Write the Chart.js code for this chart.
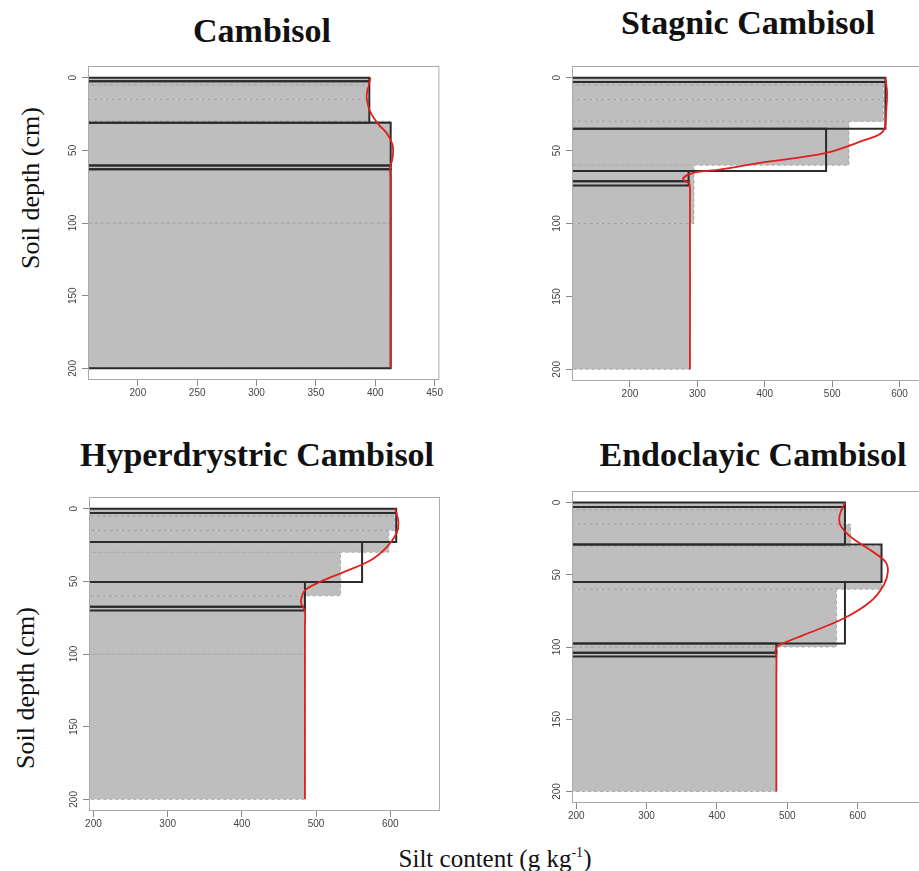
<!DOCTYPE html>
<html lang="en">
<head>
<meta charset="UTF-8">
<title>Silt content depth profiles</title>
<script src="https://cdn.jsdelivr.net/npm/chart.js"></script>
<style>
  body { margin: 0; width: 919px; height: 871px; overflow: hidden; background: #fff; position: relative;
         font-family: "Liberation Serif", "Times New Roman", serif; color: #111; }
  canvas { position: absolute; }
  .title { position: absolute; transform: translateX(-50%); font-weight: bold; font-size: 34px; line-height: 1; white-space: nowrap; }
  .ylab { position: absolute; font-size: 26px; line-height: 1; white-space: nowrap; transform: translate(-50%, -50%) rotate(-90deg); }
  .xlab { position: absolute; font-size: 25px; line-height: 1; white-space: nowrap; transform: translate(-50%, -50%); }
  .xlab sup { font-size: 14px; vertical-align: 10px; }
</style>
</head>
<body>
<div class="title" style="left:262px; top:14px;">Cambisol</div>
<div class="title" style="left:748px; top:6px;">Stagnic Cambisol</div>
<div class="title" style="left:257px; top:438px;">Hyperdrystric Cambisol</div>
<div class="title" style="left:753px; top:438px;">Endoclayic Cambisol</div>
<div class="ylab" style="left:31px; top:188px;">Soil depth (cm)</div>
<div class="ylab" style="left:26px; top:688px;">Soil depth (cm)</div>
<div class="xlab" style="left:495px; top:858px;">Silt content (g kg<sup>-1</sup>)</div>

<script>
// standard depth intervals (cm) for the gray bars
const stdTop = [0, 5, 15, 30, 60, 100];
const stdBottom = [5, 15, 30, 60, 100, 200];

// Cambisol
const cambisolStd = [395, 393, 395, 413, 413, 413];
const cambisolHzTop = [0, 2.5, 31, 60.5, 63];
const cambisolHzBottom = [2.5, 31, 60.5, 63, 200];
const cambisolHzSilt = [395, 395, 413, 413, 413];
const cambisolSplineDepth = [0, 10.6, 15, 23, 32, 38, 46, 52, 57.5, 61, 70, 200];
const cambisolSplineSilt = [396, 393, 393, 395.5, 402.5, 409.5, 414.5, 415, 414, 412.5, 413, 413];

// Stagnic Cambisol
const stagnicStd = [576, 576, 576, 525, 295, 289];
const stagnicHzTop = [0, 3, 35, 64, 71];
const stagnicHzBottom = [3, 35, 64, 71, 74];
const stagnicHzSilt = [579, 579, 491, 287, 287];
const stagnicSplineDepth = [0, 10.5, 24, 34.5, 39, 42.5, 51.6, 58.5, 63, 65.3, 68.8, 71, 72.2, 84, 200];
const stagnicSplineSilt = [579, 581.5, 580, 578, 570, 550, 491, 393, 333, 294, 279, 281.5, 288, 289, 289];

// Hyperdrystric Cambisol
const hyperStd = [606, 606, 598, 533, 485, 485];
const hyperHzTop = [0, 3, 23, 50.5, 67.5];
const hyperHzBottom = [3, 23, 50.5, 67.5, 70];
const hyperHzSilt = [608, 608, 562, 485, 485];
const hyperSplineDepth = [0, 9.4, 17.4, 26.6, 35.7, 43.7, 50.5, 56.2, 63.2, 66.6, 70, 80, 200];
const hyperSplineSilt = [606.5, 611, 608, 595, 573, 537, 505, 485, 479.5, 481, 485, 485, 485];

// Endoclayic Cambisol
const endoStd = [582, 582, 590, 634, 570, 484.5];
const endoHzTop = [0, 3, 29, 55, 97.5, 104];
const endoHzBottom = [3, 29, 55, 97.5, 104, 106.5];
const endoHzSilt = [582, 582, 634, 582, 484.5, 484.5];
const endoSplineDepth = [0, 8.7, 15.6, 23.7, 32.9, 41, 48, 57.2, 68.7, 80.3, 91.8, 98.8, 102.3, 106, 120, 200];
const endoSplineSilt = [582, 574.5, 575.5, 590, 618, 639.5, 643, 637, 618, 580, 523, 488, 483, 484.5, 484.5, 484.5];

// axis ranges
const depthTicks = [0, 50, 100, 150, 200];
const xMins = [158, 114, 194, 194];
const xMaxs = [454, 660, 667, 710];
const xSteps = [50, 100, 100, 100];

// plot frame on the page: left, top, right, bottom
const frames = [[88, 66, 440, 380], [572, 66, 940, 381], [89, 497, 440, 811], [572, 491, 935, 803]];

const panels = [
  { std: cambisolStd, hzTop: cambisolHzTop, hzBottom: cambisolHzBottom, hzSilt: cambisolHzSilt, spD: cambisolSplineDepth, spS: cambisolSplineSilt },
  { std: stagnicStd, hzTop: stagnicHzTop, hzBottom: stagnicHzBottom, hzSilt: stagnicHzSilt, spD: stagnicSplineDepth, spS: stagnicSplineSilt },
  { std: hyperStd, hzTop: hyperHzTop, hzBottom: hyperHzBottom, hzSilt: hyperHzSilt, spD: hyperSplineDepth, spS: hyperSplineSilt },
  { std: endoStd, hzTop: endoHzTop, hzBottom: endoHzBottom, hzSilt: endoHzSilt, spD: endoSplineDepth, spS: endoSplineSilt }
];

Chart.defaults.font.family = '"Liberation Sans", Arial, sans-serif';
Chart.defaults.font.size = 10;
Chart.defaults.color = '#444';

// closed rectangle from the left edge to the value
function rect(top, bottom, v) {
  const lo = -1000;
  return [{x: lo, y: top}, {x: v, y: top}, {x: v, y: bottom}, {x: lo, y: bottom}, {x: lo, y: top}];
}

// y labels in R are drawn parallel to the axis
const rotatedYTicks = {
  id: 'rotatedYTicks',
  afterDraw(chart) {
    const ys = chart.scales.y, ctx = chart.ctx;
    ctx.save();
    ctx.font = '10px "Liberation Sans", Arial, sans-serif';
    ctx.fillStyle = '#444';
    ctx.textAlign = 'center';
    ctx.textBaseline = 'middle';
    ys.ticks.forEach(t => {
      ctx.save();
      ctx.translate(chart.chartArea.left - 15, ys.getPixelForValue(t.value));
      ctx.rotate(-Math.PI / 2);
      ctx.fillText(String(t.value), 0, 0);
      ctx.restore();
    });
    ctx.restore();
  }
};

const frameBox = {
  id: 'frameBox',
  afterDatasetsDraw(chart) {
    const a = chart.chartArea, ctx = chart.ctx;
    ctx.save();
    ctx.strokeStyle = '#aaa';
    ctx.lineWidth = 1;
    ctx.strokeRect(a.left + 0.5, a.top + 0.5, a.width - 1, a.height - 1);
    ctx.restore();
  }
};

panels.forEach((p, i) => {
  const [fl, ft, fr, fb] = frames[i];
  const canvas = document.createElement('canvas');
  canvas.width = fr - fl + 54;
  canvas.height = fb - ft + 38;
  canvas.style.left = (fl - 50) + 'px';
  canvas.style.top = (ft - 8) + 'px';
  document.body.appendChild(canvas);

  const datasets = [];
  // red spline
  datasets.push({
    data: p.spD.map((d, k) => ({x: p.spS[k], y: d})),
    borderColor: '#e0201c', borderWidth: 1.8, pointRadius: 0, tension: 0.35, fill: false, order: 0
  });
  // horizon rectangles
  p.hzTop.forEach((t, k) => {
    datasets.push({
      data: rect(t, p.hzBottom[k], p.hzSilt[k]),
      borderColor: '#2b2b2b', borderWidth: 2, pointRadius: 0, tension: 0, fill: false, clip: 0, order: 1
    });
  });
  // standard depth gray bars
  stdTop.forEach((t, k) => {
    datasets.push({
      data: rect(t, stdBottom[k], p.std[k]),
      borderColor: 'rgba(160,160,160,0.85)', borderWidth: 1, borderDash: [3, 3],
      backgroundColor: '#bebebe', pointRadius: 0, tension: 0, fill: 'shape', clip: 0, order: 2
    });
  });

  new Chart(canvas, {
    type: 'scatter',
    data: { datasets: datasets },
    options: {
      responsive: false,
      animation: false,
      showLine: true,
      layout: { padding: { top: 8, right: 4, left: 0, bottom: 0 } },
      plugins: { legend: { display: false }, tooltip: { enabled: false } },
      scales: {
        x: {
          type: 'linear', min: xMins[i], max: xMaxs[i],
          afterFit: s => { s.height = 30; },
          ticks: { stepSize: xSteps[i], includeBounds: false, padding: 1, maxRotation: 0, autoSkip: false },
          grid: { drawOnChartArea: false, drawTicks: true, tickLength: 6, color: '#888' },
          border: { display: false }
        },
        y: {
          type: 'linear', min: -8, max: 208, reverse: true,
          afterFit: s => { s.width = 50; },
          afterBuildTicks: s => { s.ticks = depthTicks.map(v => ({value: v})); },
          ticks: { display: false },
          grid: { drawOnChartArea: false, drawTicks: true, tickLength: 6, color: '#888' },
          border: { display: false }
        }
      }
    },
    plugins: [rotatedYTicks, frameBox]
  });
});
</script>
</body>
</html>
